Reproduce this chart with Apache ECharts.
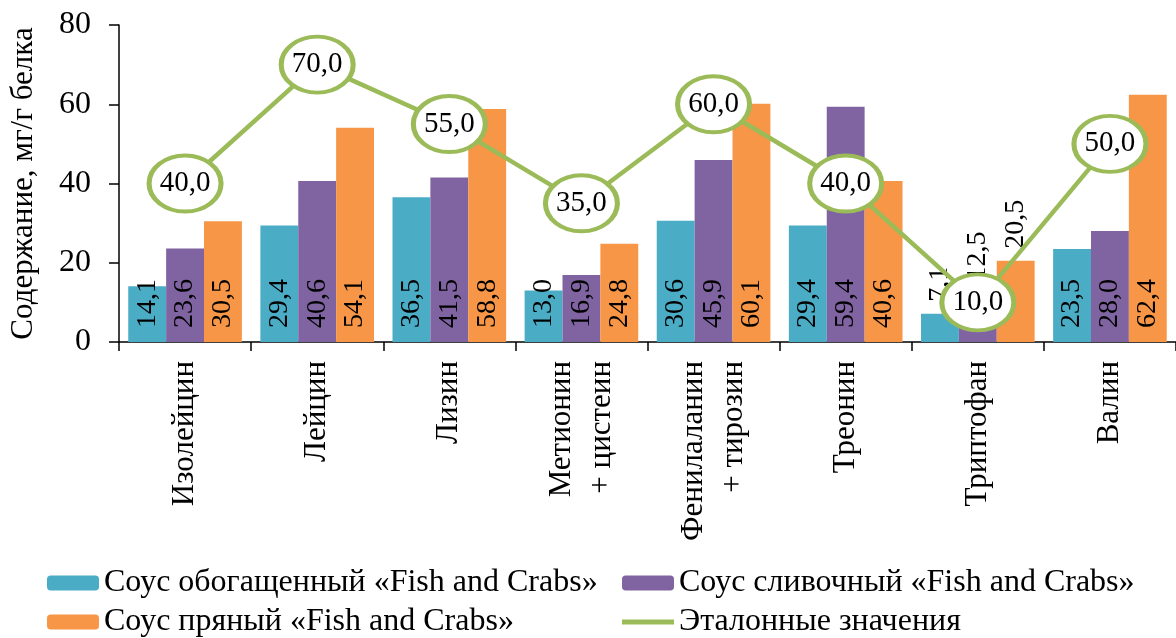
<!DOCTYPE html>
<html>
<head>
<meta charset="utf-8">
<script src="https://cdn.jsdelivr.net/npm/echarts@6/dist/echarts.min.js"></script>
<style>
html,body{margin:0;padding:0;background:#fff;}
#chart{width:1176px;height:638px;}
</style>
</head>
<body>
<div id="chart"></div>
<script>
const categories = ['Изолейцин', 'Лейцин', 'Лизин', 'Метионин\n+ цистеин', 'Фенилаланин\n+ тирозин', 'Треонин', 'Триптофан', 'Валин'];
const enriched = [14.1, 29.4, 36.5, 13.0, 30.6, 29.4, 7.1, 23.5];
const creamy = [23.6, 40.6, 41.5, 16.9, 45.9, 59.4, 12.5, 28.0];
const spicy = [30.5, 54.1, 58.8, 24.8, 60.1, 40.6, 20.5, 62.4];
const reference = [40.0, 70.0, 55.0, 35.0, 60.0, 40.0, 10.0, 50.0];
const yTicks = [0, 20, 40, 60, 80];
const seriesNames = ['Соус обогащенный «Fish and Crabs»', 'Соус сливочный «Fish and Crabs»', 'Соус пряный «Fish and Crabs»', 'Эталонные значения'];
// category whose bar labels sit above the bars
const labelsAboveCategory = 'Триптофан';

const FONT = '"Liberation Serif", "Times New Roman", serif';
const fmt = v => Number(v).toFixed(1).replace('.', ',');

const barLabel = {
  show: true,
  position: 'insideBottom',
  rotate: 90,
  align: 'left',
  verticalAlign: 'middle',
  distance: 14,
  fontFamily: FONT,
  fontSize: 28,
  color: '#000',
  formatter: p => fmt(p.value)
};

function barSeries(name, data, color) {
  return {
    name: name,
    type: 'bar',
    data: data.map((v, i) => categories[i] === labelsAboveCategory
      ? {value: v, label: {position: 'top', distance: 12}}
      : v),
    barGap: '0%',
    barCategoryGap: '14%',
    itemStyle: {color: color},
    label: barLabel,
    z: 2
  };
}

const legendText = {fontFamily: FONT, fontSize: 32, color: '#000'};
function legendAt(left, top, item) {
  return {left: left, top: top, padding: 0, itemWidth: 52, itemHeight: 15, itemGap: 5,
    textStyle: legendText, data: [item], selectedMode: false};
}

const chart = echarts.init(document.getElementById('chart'), null, {renderer: 'canvas'});
chart.setOption({
  backgroundColor: '#fff',
  animation: false,
  grid: {left: 116, top: 25, width: 1069, height: 317, containLabel: false},
  legend: [
    legendAt(47, 567, seriesNames[0]),
    legendAt(622, 567, seriesNames[1]),
    legendAt(47, 606, seriesNames[2]),
    legendAt(622, 606, {name: seriesNames[3], icon: 'path://M0,0L52,0L52,5L0,5Z', itemStyle: {color: '#9BBB59', borderWidth: 0}})
  ],
  xAxis: {
    type: 'category',
    data: categories,
    axisLine: {lineStyle: {color: '#000', width: 1.5}},
    axisTick: {show: true, length: 9, lineStyle: {color: '#000', width: 1.5}},
    axisLabel: {rotate: 90, interval: 0, margin: 19, fontFamily: FONT, fontSize: 31, lineHeight: 40, color: '#000'}
  },
  yAxis: {
    type: 'value',
    min: yTicks[0],
    max: yTicks[yTicks.length - 1],
    interval: yTicks[1] - yTicks[0],
    name: 'Содержание, мг/г белка',
    nameLocation: 'middle',
    nameGap: 80,
    nameTextStyle: {fontFamily: FONT, fontSize: 31, color: '#000'},
    axisLine: {show: true, lineStyle: {color: '#000', width: 1.5}},
    axisTick: {show: true, length: 10, lineStyle: {color: '#000', width: 1.5}},
    axisLabel: {margin: 28, fontFamily: FONT, fontSize: 32, color: '#000'},
    splitLine: {show: false}
  },
  series: [
    barSeries(seriesNames[0], enriched, '#4BACC6'),
    barSeries(seriesNames[1], creamy, '#8064A2'),
    barSeries(seriesNames[2], spicy, '#F79646'),
    {
      name: seriesNames[3],
      type: 'line',
      data: reference,
      z: 5,
      symbol: 'circle',
      symbolSize: [72, 56],
      lineStyle: {color: '#9BBB59', width: 4.5},
      itemStyle: {color: '#fff', borderColor: '#9BBB59', borderWidth: 4.5},
      label: {show: true, position: 'inside', fontFamily: FONT, fontSize: 29, color: '#000', formatter: p => fmt(p.value)},
      emphasis: {disabled: true}
    }
  ]
});
</script>
</body>
</html>
